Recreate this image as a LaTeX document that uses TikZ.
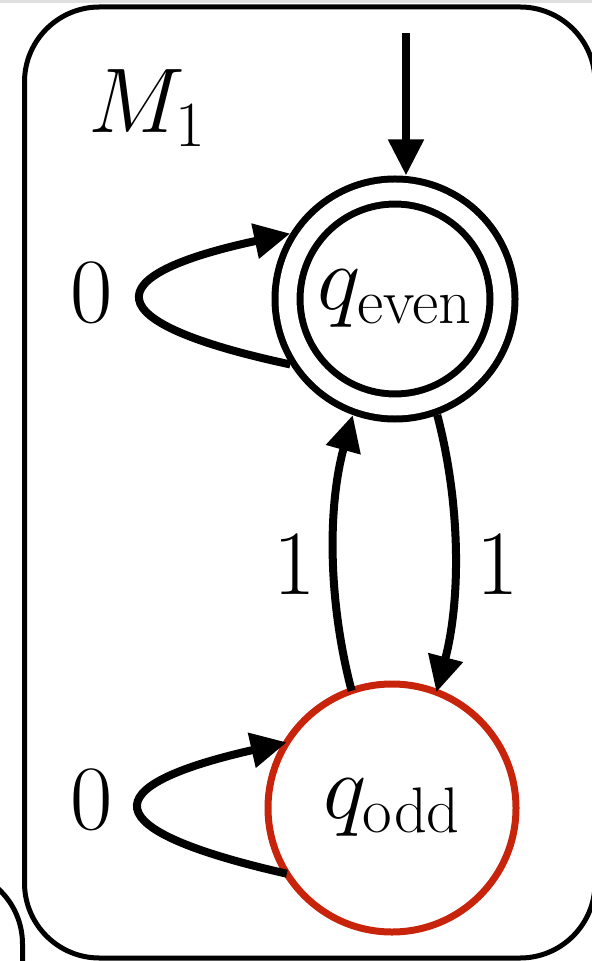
\RequirePackage{fix-cm}
\documentclass[tikz,border=0pt]{standalone}
\usetikzlibrary{arrows.meta}
\definecolor{oddred}{RGB}{200,36,12}

\begin{document}
\begin{tikzpicture}[x=0.5pt, y=-0.5pt,
    every node/.style={font=\fontsize{46}{54}\selectfont},
    state/.style={circle, draw, line width=3.5pt, inner sep=0pt},
    accept/.style={state, double, double distance=9pt, minimum size=107.5pt, outer sep=8pt},
    oddstate/.style={state, draw=oddred, minimum size=124pt, outer sep=0pt},
    edge/.style={line width=4pt, -{Triangle[length=18pt, width=17pt]}}]
    \useasboundingbox (0,0) rectangle (592,961);

    % machine frame and the neighbouring one
    \fill[gray!25] (0,0) rectangle (592,3);
    \begin{scope}
        \clip (0,0) rectangle (592,961);
        \draw[line width=2.5pt, rounded corners=37.5pt] (24.5,7) rectangle (595,958);
        \draw[line width=2.5pt, rounded corners=37.5pt] (-300,869) -- (22.5,869) -- (22.5,1100);
    \end{scope}
    \node[anchor=base west] (m1) at (81,133) {$M_1$};

    % states
    \node[accept] (qe) at (395,299) {$q_{\mathrm{even}}$};
    \node[oddstate] (qo) at (392,808) {$q_{\mathrm{odd}}$};
    \coordinate (init) at (406,33);

    % transitions
    \draw[edge] (init) -- (init |- qe.north);
    \draw[edge] (qe.212) .. controls +(-196,-42) and +(-196,42) .. (qe.148);
    \draw[edge] (qo.212) .. controls +(-194,-44) and +(-194,44) .. (qo.148);
    \draw[edge] (qe.290) .. controls +(24,91) and +(24,-91) .. (qo.69);
    \draw[edge] (qo.109) .. controls +(-24,-91) and +(-25,91) .. (qe.250);

    % labels
    \node (z1) at (92,293) {$0$};
    \node (z2) at (92,800) {$0$};
    \node (o1) at (295,565) {$1$};
    \node (o2) at (498,565) {$1$};
\end{tikzpicture}
\end{document}
